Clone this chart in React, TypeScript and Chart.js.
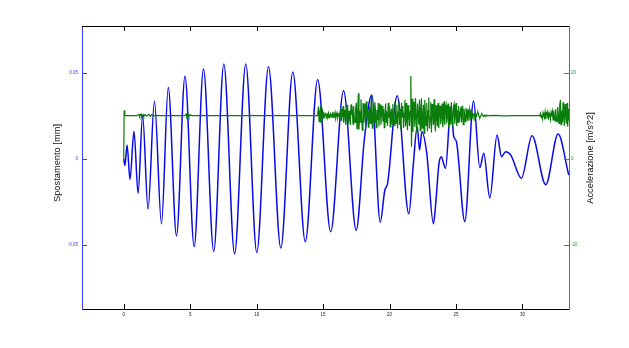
import React, { useEffect, useRef } from "react";
import { Chart, registerables } from "chart.js";

Chart.register(...registerables);

// ---- Axis ticks ----
const xTickValues = [0, 5, 10, 15, 20, 25, 30];
const dispTickValues = [-0.05, 0, 0.05];
const accTickValues = [-20, 0, 20];

// ---- Displacement (blue, left axis): times [s] and values [mm] at turning points ----
const dispTimes = [
  0.0, 0.09, 0.25, 0.47, 0.77, 1.08, 1.42, 1.83, 2.31, 2.84, 3.35, 3.97, 4.61, 5.3, 6.0,
  6.77, 7.53, 8.34, 9.18, 10.01, 10.89, 11.82, 12.72, 13.66, 14.59, 15.57, 16.54, 17.49,
  18.1, 18.66, 19.3, 19.65, 19.84, 20.57, 21.45, 21.78, 22.08, 22.26, 22.43, 22.8, 23.3,
  23.45, 23.73, 23.91, 24.0, 24.21, 24.61, 24.83, 25.03, 25.66, 26.32, 26.79, 27.09,
  27.54, 28.09, 28.42, 28.74, 29.12, 29.92, 30.72, 31.75, 32.68, 33.48,
];
const dispValues = [
  0.0, -0.004, 0.008, -0.012, 0.016, -0.02, 0.025, -0.0293, 0.0333, -0.0378, 0.0413,
  -0.0448, 0.0478, -0.051, 0.052, -0.0538, 0.055, -0.0552, 0.055, -0.0544, 0.0533,
  -0.0518, 0.0503, -0.0482, 0.046, -0.0424, 0.0394, -0.0415, 0.011, 0.037, -0.0368,
  -0.018, -0.0148, 0.0365, -0.032, -0.004, 0.0186, 0.005, 0.0157, 0.003, -0.0378,
  -0.028, -0.002, 0.0012, -0.001, -0.0056, 0.0302, 0.0128, 0.0099, -0.0365, 0.0335,
  -0.0052, 0.0031, -0.0228, 0.0137, 0.0012, 0.0041, 0.0021, -0.0113, 0.0133, -0.0151,
  0.0143, -0.0095,
];

// ---- Acceleration (green, right axis) ----
// quiet start: times and values
const accStartTimes = [
  0, 0.03, 0.08, 1.0, 1.15, 1.2, 1.3, 1.35, 1.45, 1.5, 1.6, 1.7, 1.9, 2.0, 2.1, 2.2, 3.0,
  4.6, 4.7, 4.75, 4.85, 4.9, 5.0, 5.1, 8.0, 14.5,
];
const accStartValues = [
  0, 11.2, 10.0, 10.0, 10.3, 9.8, 10.3, 9.8, 10.25, 9.85, 10.2, 9.9, 10.3, 9.8, 10.2, 10.0,
  10.0, 10.0, 10.35, 9.7, 10.3, 9.8, 10.2, 10.0, 10.0, 10.0,
];
// main shaking: samples every 0.05 s from 14.55 s
const accMainStart = 14.55;
const accMainStep = 0.05;
const accMainValues = [
  10.0, 10.6, 12.1, 8.6, 10.9, 11.6, 8.4, 10.2, 11.0, 9.4,
  10.3, 9.8, 10.5, 10.2, 9.6, 10.3, 9.9, 10.6, 9.5, 10.0, 10.4, 9.7, 10.1, 10.5, 9.6, 10.3,
  9.9, 10.7, 9.4, 10.0, 10.6, 9.5, 10.2, 10.4, 9.6,
  10.8, 8.9, 11.6, 9.7, 12.2, 8.3, 10.4, 11.4, 7.9, 10.1, 12.5, 9.3, 8.1, 11.2, 9.6, 7.8,
  12.6, 10.2, 11.1, 8.0, 12.2, 9.4, 8.4,
  11.6, 13.0, 7.0, 10.4, 15.2, 6.8, 11.1, 8.5, 13.8, 9.2, 6.6, 12.9,
  8.4, 12.8, 10.1, 7.0, 13.3, 9.4, 11.6, 7.3, 10.2, 12.1, 8.2, 12.7, 14.8, 7.1, 9.8, 12.4,
  8.5, 13.1, 10.6, 7.2, 11.3, 9.0, 12.9, 7.5, 10.7, 12.6,
  7.9, 10.8, 12.3, 8.6, 11.5, 7.2, 9.9, 12.8, 8.4, 11.0, 7.6, 13.0, 9.5, 12.2, 7.4, 10.6,
  11.6, 8.1, 12.7, 9.3, 7.7, 13.2, 10.4, 8.2,
  12.5, 7.0, 10.9, 13.4, 7.8, 11.5, 6.8, 13.0, 9.7, 12.2, 7.1, 10.5, 13.6, 7.5, 12.9, 9.0,
  6.6, 12.4, 10.8, 7.6, 11.0,
  19.2, 2.8, 13.9,
  6.2, 10.9, 13.2, 7.4, 14.1, 9.5, 6.0, 12.8, 10.6, 7.9, 13.7, 6.5, 11.4, 14.0, 7.1, 9.6,
  12.5, 5.9, 13.6, 10.2, 7.7, 12.9, 6.4, 11.1, 14.2, 7.0, 9.7, 13.1, 6.1, 12.7, 10.4, 7.8,
  13.8, 8.6, 6.3,
  12.4, 9.8, 7.5, 13.0, 7.1, 11.2, 12.3, 8.0, 10.1, 12.8, 7.3, 9.6, 13.3, 7.8, 11.6, 12.4,
  8.2, 9.9, 12.8, 7.2, 10.7, 12.1, 7.9, 13.1, 9.4, 7.5, 11.9, 12.6, 8.1, 10.2, 12.9, 7.6,
  11.3, 8.4,
  12.2, 8.6, 10.9, 11.9, 8.4, 12.3, 9.6, 7.9, 11.6, 10.2, 8.6, 11.8, 9.1, 11.4, 8.7, 10.6,
  11.5, 8.9, 10.3, 11.0, 9.2, 10.4,
  10.4, 9.7, 10.3, 9.8, 10.2, 9.9, 10.6, 10.8, 10.3, 9.6, 9.5, 9.9, 10.2, 10.4, 10.1, 9.8,
  9.9, 10.1, 10.0, 9.9, 10.1, 10.0, 10.0, 10.0, 10.0,
];
// quiet middle
const accQuietTimes = [28.0, 28.5, 29.5, 30.5, 31.3];
const accQuietValues = [10.05, 9.95, 10.0, 10.0, 10.0];
// final burst: samples every 0.05 s from 31.35 s
const accTailStart = 31.35;
const accTailStep = 0.05;
const accTailValues = [
  10.5, 9.6, 10.2, 9.3, 10.7, 10.1, 9.5, 10.8, 9.2, 10.4, 10.9, 9.6, 9.3, 10.6, 10.1, 9.1,
  10.7, 9.8, 10.9, 9.0, 11.2, 10.1, 8.8, 11.5, 9.6, 8.6, 12.0, 10.4, 8.2, 12.4, 13.6, 7.9,
  11.1, 8.4, 13.1, 9.6, 7.6, 12.7, 10.2, 8.1, 12.9, 7.4, 11.6, 8.8,
];

const xMin = -3.14;
const xMax = 33.5;
const dispMin = -0.0872;
const dispMax = 0.077;
const accMin = -34.87;
const accMax = 30.79;

const BLUE = "#0a0ae6";
const GREEN = "#0a7d0a";
const FONT = '"Liberation Sans", Arial, sans-serif';

export default function App() {
  const ref = useRef<HTMLCanvasElement | null>(null);

  useEffect(() => {
    document.body.style.margin = "0";
    const canvas = ref.current;
    if (!canvas) return;

    const dispData = dispTimes.map((t, i) => ({ x: t, y: dispValues[i] }));
    const accData = [
      ...accStartTimes.map((t, i) => ({ x: t, y: accStartValues[i] })),
      ...accMainValues.map((v, i) => ({ x: accMainStart + i * accMainStep, y: v })),
      ...accQuietTimes.map((t, i) => ({ x: t, y: accQuietValues[i] })),
      ...accTailValues.map((v, i) => ({ x: accTailStart + i * accTailStep, y: v })),
    ];

    const framePlugin = {
      id: "frame",
      afterDraw(chart: any) {
        const { ctx, chartArea: a, scales } = chart;
        ctx.save();
        ctx.lineWidth = 1;
        // top border + x ticks
        ctx.strokeStyle = "#000";
        ctx.beginPath();
        ctx.moveTo(a.left, Math.round(a.top) + 0.5);
        ctx.lineTo(a.right, Math.round(a.top) + 0.5);
        for (const v of xTickValues) {
          const px = Math.round(scales.x.getPixelForValue(v)) + 0.5;
          ctx.moveTo(px, a.bottom);
          ctx.lineTo(px, a.bottom - 5);
          ctx.moveTo(px, a.top);
          ctx.lineTo(px, a.top + 5);
        }
        ctx.stroke();
        // left ticks
        ctx.strokeStyle = "#3a3aff";
        ctx.beginPath();
        for (const v of dispTickValues) {
          const py = Math.round(scales.y.getPixelForValue(v)) + 0.5;
          ctx.moveTo(a.left, py);
          ctx.lineTo(a.left + 5, py);
        }
        ctx.stroke();
        // right ticks
        ctx.strokeStyle = "#2a962a";
        ctx.beginPath();
        for (const v of accTickValues) {
          const py = Math.round(scales.y1.getPixelForValue(v)) + 0.5;
          ctx.moveTo(a.right, py);
          ctx.lineTo(a.right - 5, py);
        }
        ctx.stroke();
        // axis titles
        ctx.fillStyle = "#111";
        ctx.font = `9.3px ${FONT}`;
        ctx.textAlign = "center";
        ctx.textBaseline = "middle";
        ctx.save();
        ctx.translate(57, 163);
        ctx.rotate(-Math.PI / 2);
        ctx.fillText("Spostamento [mm]", 0, 0);
        ctx.restore();
        ctx.save();
        ctx.translate(590, 158);
        ctx.rotate(-Math.PI / 2);
        ctx.fillText("Accelerazione [m/s?2]", 0, 0);
        ctx.restore();
        ctx.restore();
      },
    };

    const chart = new Chart(canvas, {
      type: "line",
      data: {
        datasets: [
          {
            label: "acc",
            data: accData,
            yAxisID: "y1",
            borderColor: GREEN,
            borderWidth: 1.2,
            pointRadius: 0,
            tension: 0,
            order: 0,
          },
          {
            label: "disp",
            data: dispData,
            yAxisID: "y",
            borderColor: BLUE,
            borderWidth: 1.5,
            pointRadius: 0,
            cubicInterpolationMode: "monotone",
            order: 1,
          },
        ],
      },
      options: {
        responsive: false,
        animation: false,
        events: [],
        layout: { padding: { top: 26, left: 0, right: 0, bottom: 0 } },
        plugins: { legend: { display: false }, tooltip: { enabled: false } },
        scales: {
          x: {
            type: "linear",
            min: xMin,
            max: xMax,
            afterBuildTicks: (s: any) => {
              s.ticks = xTickValues.map((value) => ({ value }));
            },
            afterFit: (s: any) => {
              s.height = 39;
            },
            grid: { display: false, drawTicks: false },
            border: { display: true, color: "#000", width: 1 },
            ticks: {
              padding: 3,
              color: "#222",
              font: { size: 4.5, family: FONT },
              maxRotation: 0,
              callback: (v: any) => String(v),
            },
          },
          y: {
            type: "linear",
            position: "left",
            min: dispMin,
            max: dispMax,
            afterBuildTicks: (s: any) => {
              s.ticks = dispTickValues.map((value) => ({ value }));
            },
            afterFit: (s: any) => {
              s.width = 82;
            },
            grid: { display: false, drawTicks: false },
            border: { display: true, color: "#3a3aff", width: 1 },
            ticks: {
              padding: 4,
              color: "#3a3aff",
              font: { size: 4.5, family: FONT },
              callback: (v: any) => String(v),
            },
          },
          y1: {
            type: "linear",
            position: "right",
            min: accMin,
            max: accMax,
            afterBuildTicks: (s: any) => {
              s.ticks = accTickValues.map((value) => ({ value }));
            },
            afterFit: (s: any) => {
              s.width = 60;
            },
            grid: { display: false, drawTicks: false },
            border: { display: true, color: "#2a962a", width: 1 },
            ticks: {
              padding: 2,
              color: "#2a962a",
              font: { size: 4.5, family: FONT },
              callback: (v: any) => String(v),
            },
          },
        },
      },
      plugins: [framePlugin],
    } as any);

    return () => chart.destroy();
  }, []);

  return (
    <div style={{ position: "absolute", left: 0, top: 0, width: 629, height: 348, background: "#fff" }}>
      <canvas ref={ref} width={629} height={348} />
    </div>
  );
}
